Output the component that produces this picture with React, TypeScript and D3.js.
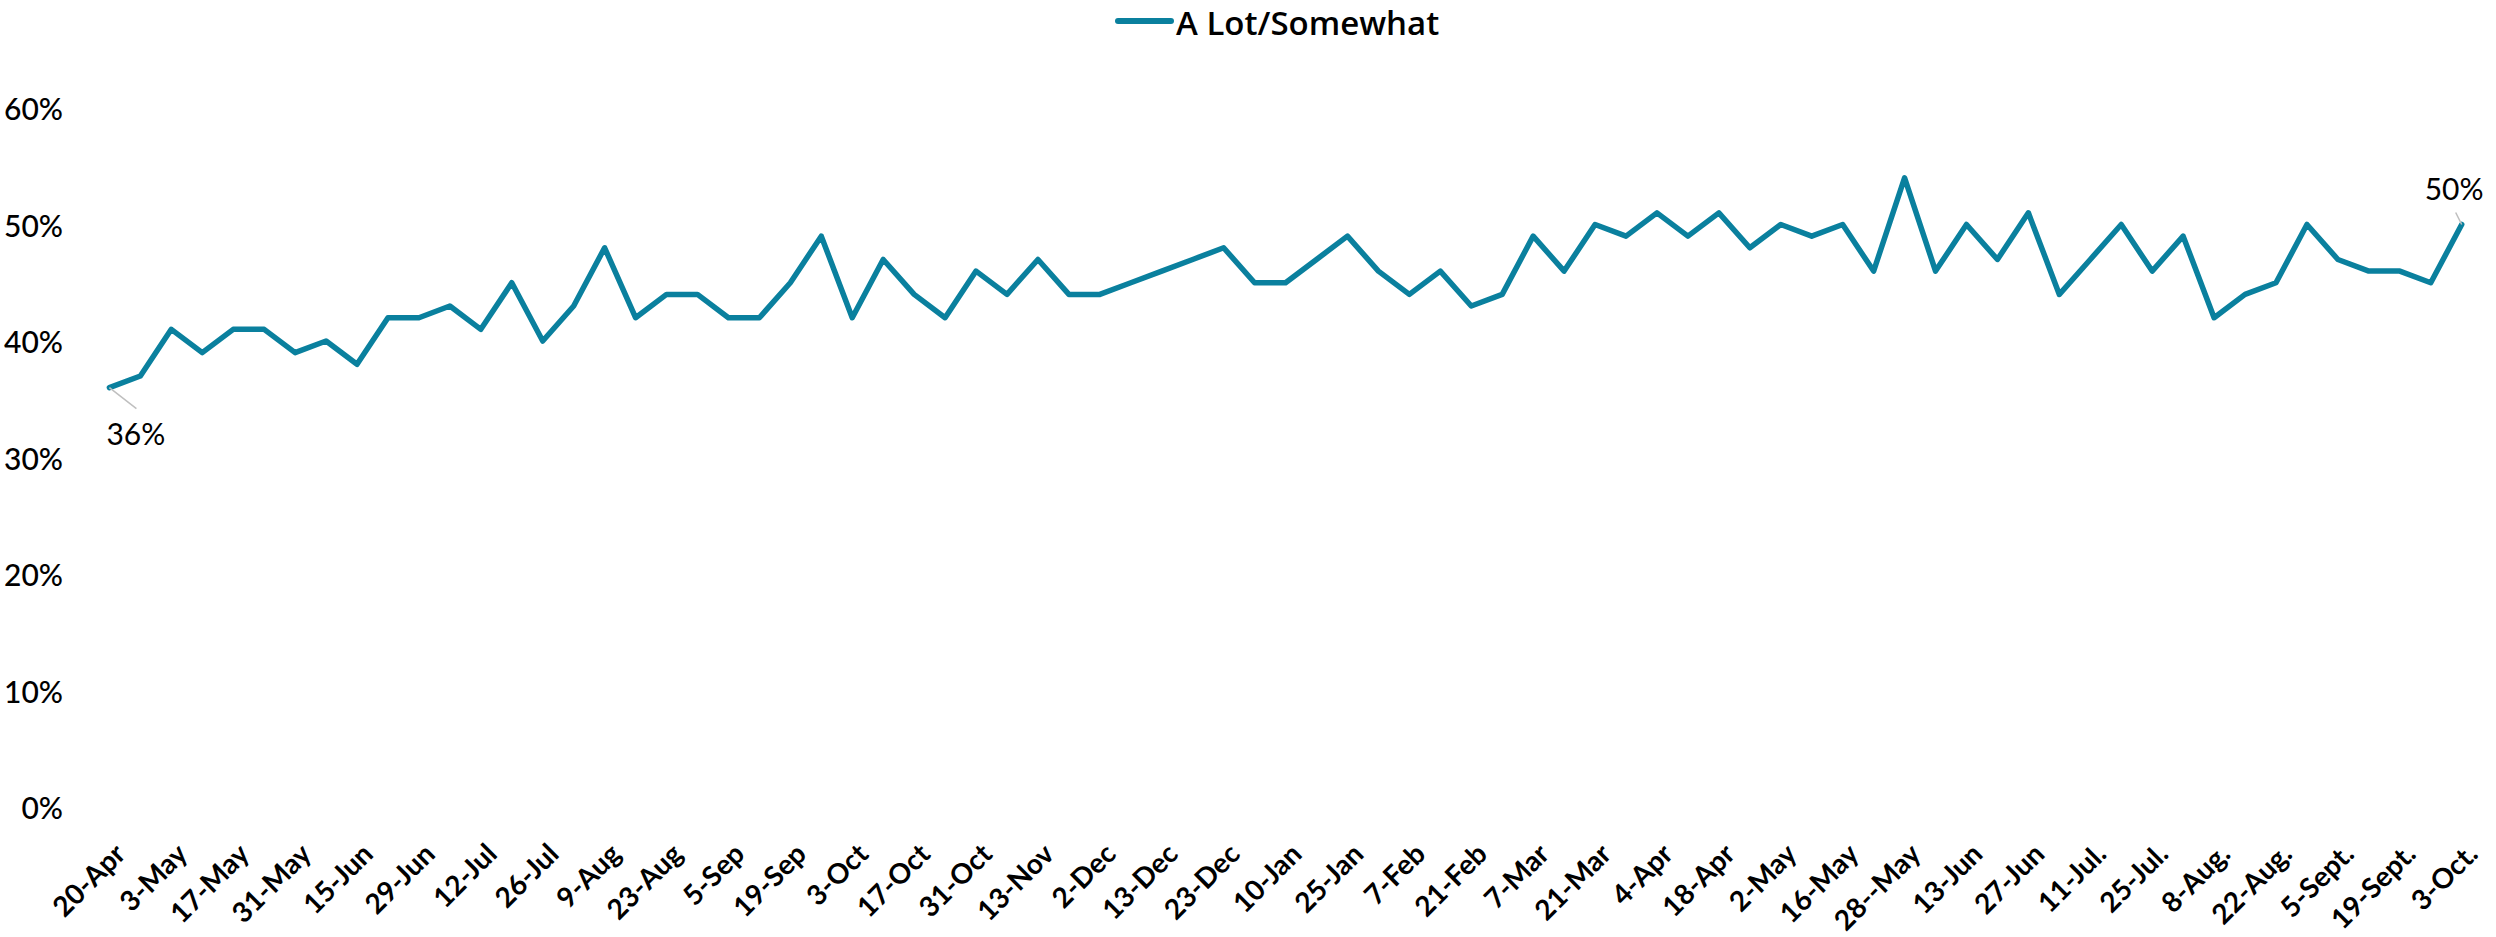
import React from "react";
import * as d3 from "d3";

const seriesName = "A Lot/Somewhat";

const values: number[] = [
  36, 37, 41, 39, 41, 41, 39, 40, 38, 42, 42, 43, 41, 45, 40, 43, 48, 42, 44, 44,
  42, 42, 45, 49, 42, 47, 44, 42, 46, 44, 47, 44, 44, 45, 46, 47, 48, 45, 45, 47,
  49, 46, 44, 46, 43, 44, 49, 46, 50, 49, 51, 49, 51, 48, 50, 49, 50, 46, 54, 46,
  50, 47, 51, 44, 47, 50, 46, 49, 42, 44, 45, 50, 47, 46, 46, 45, 50,
];

// labels shown on every other category
const tickLabels: string[] = [
  "20-Apr", "3-May", "17-May", "31-May", "15-Jun", "29-Jun", "12-Jul", "26-Jul",
  "9-Aug", "23-Aug", "5-Sep", "19-Sep", "3-Oct", "17-Oct", "31-Oct", "13-Nov",
  "2-Dec", "13-Dec", "23-Dec", "10-Jan", "25-Jan", "7-Feb", "21-Feb", "7-Mar",
  "21-Mar", "4-Apr", "18-Apr", "2-May", "16-May", "28--May", "13-Jun", "27-Jun",
  "11-Jul.", "25-Jul.", "8-Aug.", "22-Aug.", "5-Sept.", "19-Sept.", "3-Oct.",
];

const yTicks: number[] = [0, 10, 20, 30, 40, 50, 60];

const W = 2496;
const H = 937;
const COLOR = "#0A809E";

export default function App() {
  const idx = values.map((_, i) => i);
  const x = d3.scalePoint<number>().domain(idx).range([109.4, 2461.7]);
  const y = d3.scaleLinear().domain([0, 60]).range([807, 108]);
  const line = d3
    .line<number>()
    .x((_, i) => x(i) as number)
    .y((d) => y(d));

  const first = values[0];
  const lastI = values.length - 1;
  const last = values[lastI];
  const x0 = x(0) as number;
  const xl = x(lastI) as number;

  return (
    <svg
      width={W}
      height={H}
      style={{ position: "absolute", left: 0, top: 0, background: "#fff" }}
    >
      {/* legend */}
      <g>
        <line x1={1118} x2={1171} y1={21} y2={21} stroke={COLOR} strokeWidth={6} strokeLinecap="round" />
        <text x={1176} y={35} fontFamily="'Open Sans', sans-serif" fontWeight={600} fontSize={33} fill="#000">
          {seriesName}
        </text>
      </g>

      {/* y axis labels */}
      <g fontFamily="Lato, sans-serif" fontSize={30} fontWeight={500} fill="#000">
        {yTicks.map((t) => (
          <text key={t} x={63} y={y(t)} textAnchor="end" dominantBaseline="central">
            {t + "%"}
          </text>
        ))}
      </g>

      {/* x axis labels */}
      <g fontFamily="Lato, sans-serif" fontWeight={700} fontSize={28} fill="#000">
        {tickLabels.map((lab, k) => {
          const tx = (x(k * 2) as number) + 10;
          const ty = 848;
          return (
            <text
              key={k}
              x={tx}
              y={ty}
              textAnchor="end"
              dominantBaseline="central"
              transform={`rotate(-45 ${tx} ${ty})`}
            >
              {lab}
            </text>
          );
        })}
      </g>

      {/* series line */}
      <path d={line(values) || ""} fill="none" stroke={COLOR} strokeWidth={5.5} strokeLinejoin="round" strokeLinecap="round" />

      {/* data labels */}
      <g fontFamily="Lato, sans-serif" fontSize={30} fill="#000">
        <line x1={x0} y1={y(first)} x2={x0 + 27} y2={y(first) + 21} stroke="#BFBFBF" strokeWidth={1.5} />
        <text x={x0 - 3} y={445}>{first + "%"}</text>
        <line x1={xl - 6} y1={y(last) - 12} x2={xl} y2={y(last)} stroke="#BFBFBF" strokeWidth={1.5} />
        <text x={xl - 37} y={200}>{last + "%"}</text>
      </g>
    </svg>
  );
}
